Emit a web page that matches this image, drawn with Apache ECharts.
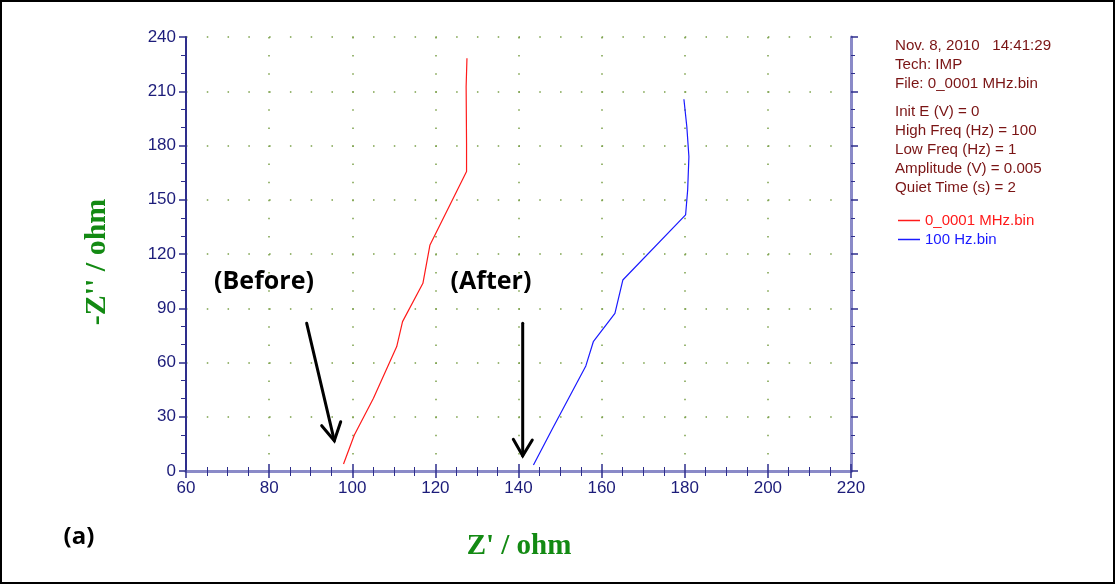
<!DOCTYPE html>
<html>
<head>
<meta charset="utf-8">
<script src="https://cdn.jsdelivr.net/npm/echarts@6/dist/echarts.min.js"></script>
<style>
  html, body { margin: 0; padding: 0; background: #fff; }
  #chart { width: 1116px; height: 585px; }
</style>
</head>
<body>
<div id="chart"></div>
<script>
// Nyquist plot: Z' (real) vs -Z'' (imaginary), in ohm
const beforeZre = [97.9, 100.5, 105.1, 110.7, 112.1, 117.0, 118.7, 127.5, 127.5, 127.4, 127.6];
const beforeZim = [3.9, 19.9, 40.2, 68.8, 82.6, 103.8, 125.0, 165.6, 181.2, 212.6, 228.3];
const afterZre  = [143.6, 148.0, 156.2, 158.0, 163.2, 165.1, 180.2, 180.7, 181.0, 180.5, 179.8];
const afterZim  = [3.3, 22.7, 58.1, 71.5, 87.2, 105.6, 141.6, 155.4, 173.8, 190.4, 205.6];

const seriesNames = ['0_0001 MHz.bin', '100 Hz.bin'];
const infoLines = [
  'Nov. 8, 2010   14:41:29',
  'Tech: IMP',
  'File: 0_0001 MHz.bin',
  '',
  'Init E (V) = 0',
  'High Freq (Hz) = 100',
  'Low Freq (Hz) = 1',
  'Amplitude (V) = 0.005',
  'Quiet Time (s) = 2'
];

const xMin = 60, xMax = 220, xStep = 20;
const yMin = 0, yMax = 240, yStep = 30;

const pairs = (xs, ys) => xs.map((x, i) => [x, ys[i]]);

const chart = echarts.init(document.getElementById('chart'));
const axisBlue = '#2e2e8c';
const frameBlue = '#8a8ac8';
const labelBlue = '#1c1c7a';
const dotGreen = '#7aa048';
const titleGreen = '#138a13';
const redLine = '#ff1a1a';
const blueLine = '#1a1aff';
const grid = { left: 186, right: 265, top: 37, bottom: 114 };
const plotW = 1116 - grid.left - grid.right;
const plotH = 585 - grid.top - grid.bottom;
// dot spacing: x minor step 5, y minor step 10
const xDot = plotW / ((xMax - xMin) / 5);
const yDot = plotH / ((yMax - yMin) / 10);

const info = [];
let yy = 39;
infoLines.forEach((t) => {
  if (t === '') { yy += 9; return; }
  info.push({
    type: 'text', left: 895, top: yy, scaleX: 1.08,
    style: { text: t, fill: '#7a1414', font: '14px "Liberation Sans", Arial, sans-serif' }
  });
  yy += 19;
});

function arrow(x1, y1, x2, y2, hl, hr) {
  const st = { stroke: '#000', lineWidth: 3, lineCap: 'round' };
  return [
    { type: 'line', shape: { x1, y1, x2, y2 }, style: st },
    { type: 'polyline', shape: { points: [hl, [x2, y2], hr] }, style: Object.assign({ fill: null }, st) }
  ];
}

chart.setOption({
  animation: false,
  backgroundColor: '#fff',
  grid: grid,
  legend: {
    orient: 'vertical', left: 893, top: 208, itemGap: 4,
    itemWidth: 22, itemHeight: 1.5, icon: 'rect',
    textStyle: { fontSize: 15, fontFamily: '"Liberation Sans", Arial, sans-serif' },
    data: [
      { name: seriesNames[0], itemStyle: { color: redLine }, textStyle: { color: redLine } },
      { name: seriesNames[1], itemStyle: { color: blueLine }, textStyle: { color: blueLine } }
    ]
  },
  xAxis: [{
    type: 'value', min: xMin, max: xMax, interval: xStep, position: 'bottom',
    axisLine: { lineStyle: { color: axisBlue, width: 2 } },
    axisTick: { length: 7, lineStyle: { color: axisBlue, width: 1.5 } },
    minorTick: { show: true, splitNumber: 4, length: 5, lineStyle: { color: axisBlue } },
    axisLabel: { color: labelBlue, fontSize: 17, margin: 9, fontFamily: '"Liberation Sans", Arial, sans-serif' },
    splitLine: { show: true, lineStyle: { color: dotGreen, width: 1.5, type: [1.5, yDot - 1.5] } }
  }, {
    type: 'value', min: xMin, max: xMax, interval: xStep, position: 'top',
    axisLine: { show: true, lineStyle: { color: frameBlue, width: 3 } },
    axisTick: { show: true, length: 7, lineStyle: { color: axisBlue, width: 1.5 } },
    minorTick: { show: true, splitNumber: 4, length: 4, lineStyle: { color: axisBlue } },
    axisLabel: { show: false }, splitLine: { show: false }
  }],
  yAxis: [{
    type: 'value', min: yMin, max: yMax, interval: yStep, position: 'left',
    axisLine: { show: true, lineStyle: { color: axisBlue, width: 2 } },
    axisTick: { show: true, length: 7, lineStyle: { color: axisBlue, width: 1.5 } },
    minorTick: { show: true, splitNumber: 3, length: 5, lineStyle: { color: axisBlue } },
    axisLabel: { color: labelBlue, fontSize: 17, margin: 10, fontFamily: '"Liberation Sans", Arial, sans-serif' },
    splitLine: { show: true, lineStyle: { color: dotGreen, width: 1.5, type: [1.5, xDot - 1.5] } }
  }, {
    type: 'value', min: yMin, max: yMax, interval: yStep, position: 'right',
    axisLine: { show: true, lineStyle: { color: frameBlue, width: 3 } },
    axisTick: { show: true, length: 7, lineStyle: { color: axisBlue, width: 1.5 } },
    minorTick: { show: true, splitNumber: 3, length: 4, lineStyle: { color: axisBlue } },
    axisLabel: { show: false }, splitLine: { show: false }
  }],
  series: [{
    name: seriesNames[0], type: 'line', symbol: 'none', color: redLine,
    lineStyle: { width: 1.2, color: redLine },
    data: pairs(beforeZre, beforeZim)
  }, {
    name: seriesNames[1], type: 'line', symbol: 'none', color: blueLine,
    lineStyle: { width: 1.2, color: blueLine },
    data: pairs(afterZre, afterZim)
  }],
  graphic: [].concat(
    info,
    [
      // axis titles
      { type: 'text', x: 519, y: 547,
        style: { text: "Z' / ohm", fill: titleGreen, align: 'center', verticalAlign: 'middle',
                 font: 'bold 29px "Liberation Serif", "Times New Roman", serif' } },
      { type: 'text', x: 97, y: 262, rotation: Math.PI / 2,
        style: { text: "-Z'' / ohm", fill: titleGreen, align: 'center', verticalAlign: 'middle',
                 font: 'bold 30px "Liberation Serif", "Times New Roman", serif' } },
      // annotations
      { type: 'text', x: 264, y: 282, style: { text: '(Before)', fill: '#000', align: 'center', verticalAlign: 'middle', font: 'bold 25px "Open Sans", sans-serif' } },
      { type: 'text', x: 491, y: 282, style: { text: '(After)', fill: '#000', align: 'center', verticalAlign: 'middle', font: 'bold 25px "Open Sans", sans-serif' } },
      { type: 'text', x: 79, y: 537, style: { text: '(a)', fill: '#000', align: 'center', verticalAlign: 'middle', font: 'bold 24px "Open Sans", sans-serif' } },
      { type: 'rect', shape: { x: 1, y: 1, width: 1113, height: 582 }, style: { fill: null, stroke: '#000', lineWidth: 2 } }
    ],
    arrow(306.7, 323.3, 334.3, 440.7, [321.7, 425.7], [340.7, 421.7]),
    arrow(522.7, 323.3, 522.7, 455.7, [513.3, 439.3], [532.3, 440])
  )
});
</script>
</body>
</html>
